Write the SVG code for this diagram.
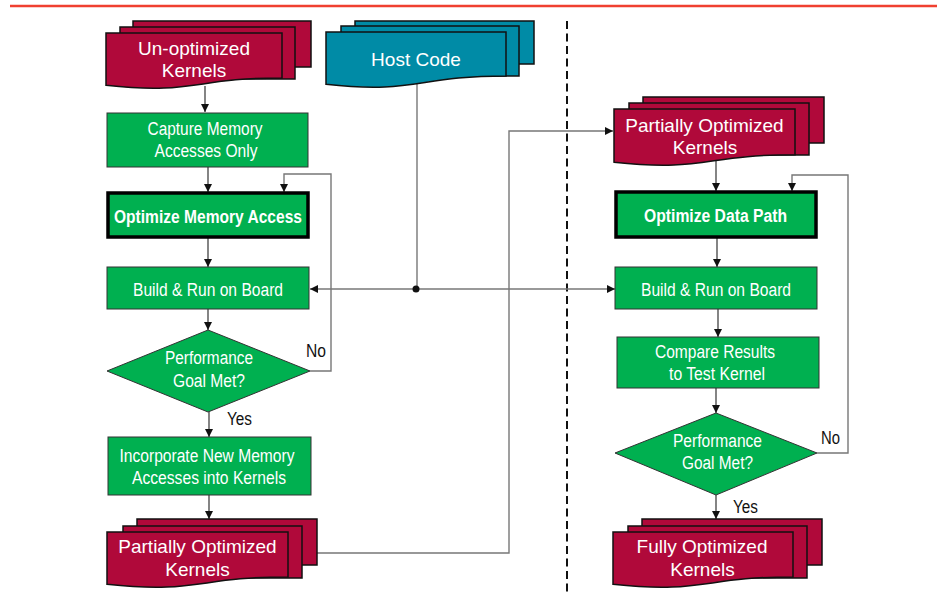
<svg xmlns="http://www.w3.org/2000/svg" width="937" height="596" viewBox="0 0 937 596">
<style>
.doc{fill:#B0093A;stroke:#111;stroke-width:1.5}
.host{fill:#008BA6;stroke:#111;stroke-width:1.5}
.box{fill:#00B050;stroke:#333;stroke-width:1}
.bold{fill:#00B050;stroke:#000;stroke-width:3.5}
.dt{font-family:"Liberation Sans",Arial,sans-serif;font-size:19px;fill:#fff;text-anchor:middle}
.gt{font-family:"Liberation Sans Narrow","Liberation Sans",Arial,sans-serif;font-size:18px;fill:#fff;text-anchor:middle}
.gb{font-family:"Liberation Sans Narrow","Liberation Sans",Arial,sans-serif;font-size:18px;font-weight:bold;fill:#fff;text-anchor:middle}
.lb{font-family:"Liberation Sans Narrow","Liberation Sans",Arial,sans-serif;font-size:18px;fill:#111}
.c{fill:none;stroke:#333;stroke-width:1.2}
.g{fill:none;stroke:#777;stroke-width:1.4}
</style>
<defs>
<marker id="ah" viewBox="0 0 10 10" refX="10" refY="5" markerWidth="8" markerHeight="8" markerUnits="userSpaceOnUse" orient="auto">
<path d="M0,0 L10,5 L0,10 z" fill="#111"/>
</marker>
</defs>
<rect width="937" height="596" fill="#fff"/>
<line x1="10" y1="6" x2="937" y2="6" stroke="#F04030" stroke-width="2.5"/>
<line x1="567" y1="21" x2="567" y2="596" stroke="#111" stroke-width="2" stroke-dasharray="8 4.5"/>

<g id="connectors">
<line class="c" x1="205" y1="86" x2="205" y2="112" marker-end="url(#ah)"/>
<line class="c" x1="208" y1="167" x2="208" y2="192" marker-end="url(#ah)"/>
<path class="g" d="M310,371 H331 V174 H284 V192" marker-end="url(#ah)"/>
<line class="c" x1="208" y1="238" x2="208" y2="267" marker-end="url(#ah)"/>
<line class="c" x1="208" y1="309" x2="208" y2="330" marker-end="url(#ah)"/>
<line class="c" x1="209" y1="412" x2="209" y2="437" marker-end="url(#ah)"/>
<line class="c" x1="209" y1="495" x2="209" y2="519" marker-end="url(#ah)"/>
<path class="g" d="M317,553 H509 V131 H613" marker-end="url(#ah)"/>
<line class="g" x1="417" y1="83" x2="417" y2="289"/>
<line class="g" x1="417" y1="289" x2="310" y2="289" marker-end="url(#ah)"/>
<line class="g" x1="417" y1="289" x2="615" y2="289" marker-end="url(#ah)"/>
<circle cx="416" cy="289" r="3.5" fill="#111"/>
<line class="c" x1="716" y1="160" x2="716" y2="191" marker-end="url(#ah)"/>
<line class="c" x1="717" y1="238" x2="717" y2="267" marker-end="url(#ah)"/>
<line class="c" x1="718" y1="309" x2="718" y2="337" marker-end="url(#ah)"/>
<line class="c" x1="716" y1="388" x2="716" y2="413" marker-end="url(#ah)"/>
<line class="c" x1="716" y1="495" x2="716" y2="519" marker-end="url(#ah)"/>
<path class="g" d="M817,453 H848 V175 H792 V191" marker-end="url(#ah)"/>
<text class="lb" x="306" y="357" textLength="20" lengthAdjust="spacingAndGlyphs">No</text>
<text class="lb" x="227" y="425" textLength="25" lengthAdjust="spacingAndGlyphs">Yes</text>
<text class="lb" x="821" y="444" textLength="19" lengthAdjust="spacingAndGlyphs">No</text>
<text class="lb" x="733" y="513" textLength="25" lengthAdjust="spacingAndGlyphs">Yes</text>
</g>

<g id="unoptimized-kernels">
<rect class="doc" x="133" y="21" width="178" height="46"/>
<rect class="doc" x="120" y="27" width="175" height="52"/>
<path class="doc" d="M106,33 H282 V77.9 C194,77.9 194,95 106,85.3 Z"/>
<text class="dt" x="194" y="55">Un-optimized</text>
<text class="dt" x="194" y="77">Kernels</text>
</g>

<g id="host-code">
<rect class="host" x="355" y="21" width="179" height="43"/>
<rect class="host" x="341" y="26" width="178" height="50"/>
<path class="host" d="M326,32 H506 V76 C416,76 416,94 326,84.3 Z"/>
<text class="dt" x="416" y="66">Host Code</text>
</g>

<g id="capture-memory">
<rect class="box" x="107" y="113" width="201" height="54"/>
<text class="gt" x="205" y="135" textLength="115" lengthAdjust="spacingAndGlyphs">Capture Memory</text>
<text class="gt" x="206" y="157" textLength="103" lengthAdjust="spacingAndGlyphs">Accesses Only</text>
</g>

<g id="optimize-memory">
<rect class="bold" x="108" y="193" width="200" height="44"/>
<text class="gb" x="208" y="223" textLength="188" lengthAdjust="spacingAndGlyphs">Optimize Memory Access</text>
</g>

<g id="build-run-left">
<rect class="box" x="107" y="267" width="202" height="42"/>
<text class="gt" x="208" y="296" textLength="150" lengthAdjust="spacingAndGlyphs">Build &amp; Run on Board</text>
</g>

<g id="goal-left">
<polygon class="box" points="107,371 208,330 310,371 208,412"/>
<text class="gt" x="209" y="364" textLength="88" lengthAdjust="spacingAndGlyphs">Performance</text>
<text class="gt" x="209" y="387" textLength="72" lengthAdjust="spacingAndGlyphs">Goal Met?</text>
</g>

<g id="incorporate">
<rect class="box" x="108" y="437" width="203" height="58"/>
<text class="gt" x="207" y="462" textLength="175" lengthAdjust="spacingAndGlyphs">Incorporate New Memory</text>
<text class="gt" x="209" y="484" textLength="154" lengthAdjust="spacingAndGlyphs">Accesses into Kernels</text>
</g>

<g id="partial-left">
<rect class="doc" x="137" y="519" width="180" height="46"/>
<rect class="doc" x="123" y="526" width="179" height="52"/>
<path class="doc" d="M107,532 H288 V576.9 C197.5,576.9 197.5,594 107,584.3 Z"/>
<text class="dt" x="197.5" y="553">Partially Optimized</text>
<text class="dt" x="197.5" y="576">Kernels</text>
</g>

<g id="partial-right">
<rect class="doc" x="643" y="97" width="181" height="46"/>
<rect class="doc" x="629" y="103" width="180" height="52"/>
<path class="doc" d="M614,109 H795 V154.7 C704.5,154.7 704.5,172 614,162.2 Z"/>
<text class="dt" x="704.5" y="132">Partially Optimized</text>
<text class="dt" x="705" y="154">Kernels</text>
</g>

<g id="optimize-datapath">
<rect class="bold" x="616" y="192" width="200" height="45"/>
<text class="gb" x="715.5" y="222" textLength="143" lengthAdjust="spacingAndGlyphs">Optimize Data Path</text>
</g>

<g id="build-run-right">
<rect class="box" x="615" y="267" width="202" height="42"/>
<text class="gt" x="716" y="296" textLength="150" lengthAdjust="spacingAndGlyphs">Build &amp; Run on Board</text>
</g>

<g id="compare">
<rect class="box" x="617" y="337" width="202" height="51"/>
<text class="gt" x="715" y="358" textLength="120" lengthAdjust="spacingAndGlyphs">Compare Results</text>
<text class="gt" x="717" y="380" textLength="96" lengthAdjust="spacingAndGlyphs">to Test Kernel</text>
</g>

<g id="goal-right">
<polygon class="box" points="615,453 716,413 817,453 716,495"/>
<text class="gt" x="717.5" y="447" textLength="89" lengthAdjust="spacingAndGlyphs">Performance</text>
<text class="gt" x="717.5" y="469" textLength="71" lengthAdjust="spacingAndGlyphs">Goal Met?</text>
</g>

<g id="fully-optimized">
<rect class="doc" x="642" y="519" width="180" height="46"/>
<rect class="doc" x="628" y="526" width="179" height="52"/>
<path class="doc" d="M613,532 H793 V576.9 C703,576.9 703,594 613,584.3 Z"/>
<text class="dt" x="702" y="553">Fully Optimized</text>
<text class="dt" x="702.5" y="576">Kernels</text>
</g>
</svg>
